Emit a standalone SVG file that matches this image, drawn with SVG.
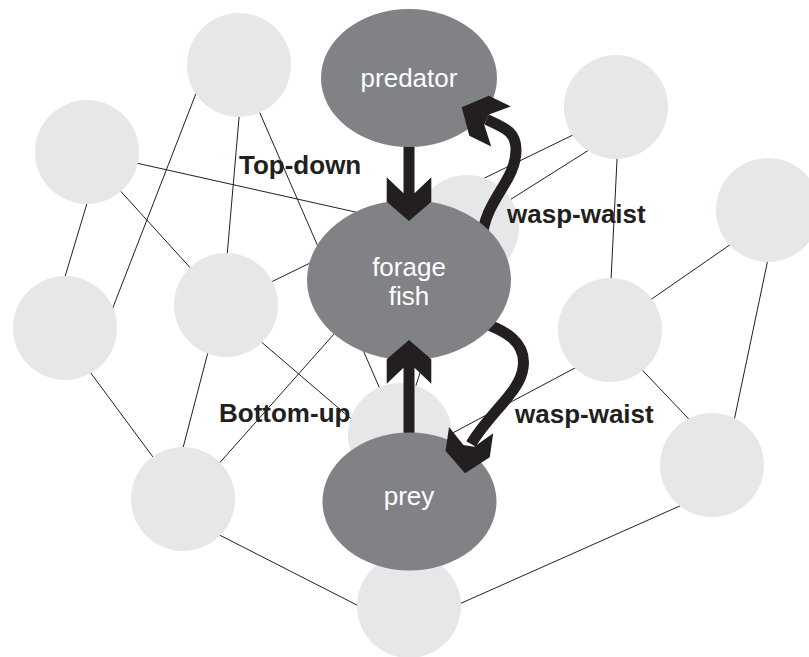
<svg xmlns="http://www.w3.org/2000/svg" width="809" height="657" viewBox="0 0 809 657">
<style>
.edge{stroke:#231f20;stroke-width:1;fill:none}
.minor{fill:#e6e7e8}
.major{fill:#808285}
.name{font-family:"Liberation Sans",Arial,Helvetica,sans-serif;font-size:26px;fill:#ffffff;text-anchor:middle}
.lab{font-family:"Liberation Sans",Arial,Helvetica,sans-serif;font-size:26px;font-weight:bold;fill:#231f20}
.tail{stroke:#231f20;stroke-width:11;fill:none}
.head{fill:#231f20}
</style>
<defs>
<path id="ah" d="M0,0 L-19.3,22.3 L-43.7,22.3 L-27.7,5.5 L-27.7,-5.5 L-43.7,-22.3 L-19.3,-22.3 Z"/>
</defs>
<rect width="809" height="657" fill="#ffffff"/>
<g id="connectors">
<line class="edge" x1="207" y1="65" x2="105" y2="328"/>
<line class="edge" x1="91" y1="190" x2="61" y2="290"/>
<line class="edge" x1="243.6" y1="65" x2="222.8" y2="305"/>
<line class="edge" x1="239" y1="65" x2="400" y2="435"/>
<line class="edge" x1="87" y1="152" x2="467" y2="237"/>
<line class="edge" x1="105" y1="174" x2="205" y2="284"/>
<line class="edge" x1="226" y1="304" x2="616" y2="114"/>
<line class="edge" x1="213" y1="333" x2="178" y2="467"/>
<line class="edge" x1="245" y1="328" x2="370" y2="435"/>
<line class="edge" x1="350" y1="316" x2="200" y2="485"/>
<line class="edge" x1="190" y1="520" x2="400" y2="627"/>
<line class="edge" x1="618" y1="140" x2="610" y2="300"/>
<line class="edge" x1="630" y1="314" x2="760" y2="224"/>
<line class="edge" x1="772" y1="240" x2="730" y2="440"/>
<line class="edge" x1="625" y1="352" x2="705" y2="436"/>
<line class="edge" x1="590" y1="360" x2="430" y2="445"/>
<line class="edge" x1="700" y1="497" x2="430" y2="617"/>
<line class="edge" x1="400" y1="435" x2="467" y2="227"/>
<line class="edge" x1="467" y1="227" x2="600" y2="143"/>
<line class="edge" x1="70" y1="345" x2="170" y2="480"/>
</g>
<g id="node-a"><circle class="minor" cx="239" cy="65" r="52"/></g>
<g id="node-b"><circle class="minor" cx="87" cy="152" r="52"/></g>
<g id="node-c"><circle class="minor" cx="65" cy="328" r="52"/></g>
<g id="node-d"><circle class="minor" cx="226" cy="305" r="52"/></g>
<g id="node-e"><circle class="minor" cx="183" cy="499" r="52"/></g>
<g id="node-f"><circle class="minor" cx="409" cy="606" r="52"/></g>
<g id="node-g"><circle class="minor" cx="467" cy="227" r="52"/></g>
<g id="node-h"><circle class="minor" cx="400" cy="435" r="52"/></g>
<g id="node-i"><circle class="minor" cx="616" cy="107" r="52"/></g>
<g id="node-j"><circle class="minor" cx="768" cy="210" r="52"/></g>
<g id="node-k"><circle class="minor" cx="610" cy="330" r="52"/></g>
<g id="node-l"><circle class="minor" cx="712" cy="465" r="52"/></g>
<g id="arrow-tails">
<line class="tail" x1="409" y1="130" x2="409" y2="196"/>
<line class="tail" x1="409" y1="460" x2="409" y2="365"/>
<path class="tail" d="M482,240 C484,200 516,182 516,150 C516,133 508,129 486.6,119.5"/>
<path class="tail" d="M480,322 C505,330 527,342 523,368 C520,392 490,412 471,444"/>
</g>
<g id="node-predator"><ellipse class="major" cx="409" cy="78" rx="88" ry="69"/><text class="name" x="409" y="87">predator</text></g>
<g id="node-forage-fish"><ellipse class="major" cx="409" cy="280" rx="102" ry="80"/><text class="name" x="409" y="276">forage</text><text class="name" x="409" y="305">fish</text></g>
<g id="node-prey"><ellipse class="major" cx="409.5" cy="501.5" rx="87" ry="69"/><text class="name" x="409" y="505">prey</text></g>
<g id="arrow-heads">
<use href="#ah" class="head" transform="translate(409,221) rotate(90)"/>
<use href="#ah" class="head" transform="translate(409,340) rotate(-90)"/>
<use href="#ah" class="head" transform="translate(461.7,107.3) rotate(206)"/>
<use href="#ah" class="head" transform="translate(465,473.3) rotate(98)"/>
</g>
<g id="labels">
<text class="lab" x="239" y="174">Top-down</text>
<text class="lab" x="507" y="223">wasp-waist</text>
<text class="lab" x="219" y="422">Bottom-up</text>
<text class="lab" x="515" y="423">wasp-waist</text>
</g>
</svg>
